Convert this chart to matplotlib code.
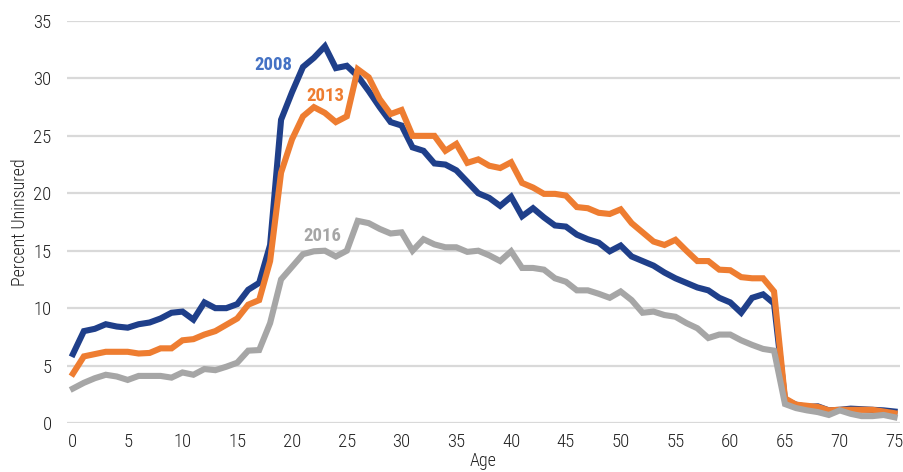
import matplotlib
matplotlib.use("Agg")
from matplotlib import pyplot as plt

ages = list(range(0, 76))

uninsured_2008 = [6.0, 8.0, 8.2, 8.6, 8.4, 8.3, 8.6, 8.75, 9.1, 9.6,
                  9.7, 9.0, 10.5, 10.0, 10.0, 10.35, 11.6, 12.2, 15.5, 26.4,
                  28.8, 31.0, 31.8, 32.8, 30.9, 31.1, 30.2, 28.9, 27.5, 26.2,
                  25.9, 24.0, 23.7, 22.6, 22.5, 22.0, 21.0, 20.0, 19.6, 18.9,
                  19.7, 18.0, 18.7, 17.9, 17.2, 17.1, 16.4, 16.0, 15.7, 14.95,
                  15.45, 14.5, 14.1, 13.7, 13.1, 12.6, 12.2, 11.8, 11.55, 10.9,
                  10.5, 9.6, 10.9, 11.2, 10.4, 2.0, 1.6, 1.4, 1.45, 1.1,
                  1.15, 1.25, 1.2, 1.15, 1.1, 1.0]

uninsured_2013 = [4.3, 5.8, 6.0, 6.2, 6.2, 6.2, 6.05, 6.1, 6.5, 6.5,
                  7.2, 7.3, 7.7, 8.0, 8.55, 9.1, 10.3, 10.7, 14.1, 21.8,
                  24.7, 26.7, 27.5, 27.0, 26.2, 26.7, 30.8, 30.1, 28.2, 26.9,
                  27.25, 25.0, 25.0, 25.0, 23.7, 24.3, 22.65, 22.95, 22.4, 22.2,
                  22.7, 20.9, 20.5, 19.95, 19.95, 19.8, 18.8, 18.7, 18.3, 18.2,
                  18.6, 17.4, 16.6, 15.8, 15.5, 15.95, 15.0, 14.1, 14.1, 13.35,
                  13.3, 12.7, 12.6, 12.6, 11.45, 2.15, 1.6, 1.5, 1.4, 1.1,
                  1.15, 1.15, 1.15, 1.15, 1.0, 0.85]

uninsured_2016 = [3.0, 3.5, 3.9, 4.2, 4.05, 3.75, 4.1, 4.1, 4.1, 3.95,
                  4.4, 4.2, 4.7, 4.6, 4.9, 5.25, 6.3, 6.35, 8.7, 12.5,
                  13.6, 14.7, 14.95, 15.0, 14.5, 15.0, 17.6, 17.4, 16.9, 16.5,
                  16.6, 15.0, 16.0, 15.55, 15.3, 15.3, 14.9, 15.0, 14.6, 14.1,
                  14.95, 13.5, 13.5, 13.35, 12.6, 12.3, 11.55, 11.55, 11.25, 10.9,
                  11.45, 10.7, 9.6, 9.7, 9.4, 9.25, 8.7, 8.25, 7.4, 7.7,
                  7.7, 7.2, 6.8, 6.45, 6.3, 1.65, 1.3, 1.1, 0.95, 0.7,
                  1.1, 0.8, 0.6, 0.6, 0.7, 0.5]

x_ticks = list(range(0, 76, 5))
y_ticks = list(range(0, 36, 5))

plt.rcParams['font.family'] = ['Roboto Condensed', 'Liberation Sans Narrow', 'Liberation Sans', 'DejaVu Sans']

fig = plt.figure(figsize=(9.04, 4.72), dpi=100)
ax = fig.add_axes([0.074, 0.1038, 0.9216, 0.8517])

ax.plot(ages, uninsured_2008, color="#1f3f8a", lw=4.4, solid_joinstyle="miter", zorder=3)
ax.plot(ages, uninsured_2013, color="#ee7d31", lw=4.4, solid_joinstyle="miter", zorder=4)
ax.plot(ages, uninsured_2016, color="#a6a6a6", lw=4.4, solid_joinstyle="miter", zorder=5)

ax.text(18.3, 31.2, "2008", color="#4472c4", fontsize=13.5, fontweight="bold", ha="center", va="center")
ax.text(23.0, 28.5, "2013", color="#ee7d31", fontsize=13.5, fontweight="bold", ha="center", va="center")
ax.text(22.8, 16.3, "2016", color="#a6a6a6", fontsize=13.5, fontweight="bold", ha="center", va="center")

ax.set_xlim(-0.55, 75.5)
ax.set_ylim(0, 35)
ax.set_xticks(x_ticks)
ax.set_yticks(y_ticks)
ax.tick_params(length=0, labelsize=13.5, colors="#222222")
ax.tick_params(axis="y", pad=11)
ax.tick_params(axis="x", pad=7)
for lbl in ax.get_xticklabels() + ax.get_yticklabels():
    lbl.set_fontweight("light")
ax.grid(axis="y", color="#d9d9d9", lw=1.6)
ax.set_axisbelow(True)
for s in ax.spines.values():
    s.set_visible(False)

ax.set_ylabel("Percent Uninsured", fontsize=13, fontweight="light", color="#222222", labelpad=3)
ax.set_xlabel("Age", fontsize=13, fontweight="light", color="#222222", labelpad=1)

plt.savefig("out.png", dpi=100)
plt.close()
